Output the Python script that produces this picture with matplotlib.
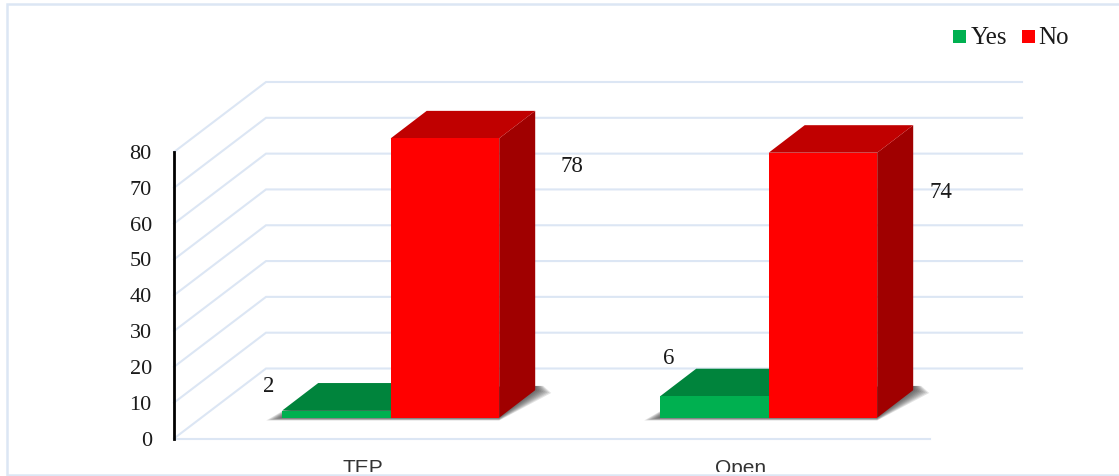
import matplotlib
matplotlib.use("Agg")
import matplotlib.pyplot as plt
from matplotlib.lines import Line2D
from matplotlib.patches import Polygon, Rectangle
from matplotlib.transforms import Bbox, TransformedBbox

categories = ["TEP", "Open"]
series_names = ["Yes", "No"]
yes_values = [2, 6]
no_values = [78, 74]
y_ticks = [0, 10, 20, 30, 40, 50, 60, 70, 80]

W, H = 1119, 476
GRID = "#DCE6F4"
SERIF = "Liberation Serif"

# Face colours of the extruded columns: front, top, side
YES_FACES = ("#00B050", "#00843C", "#006A30")
NO_FACES = ("#FF0000", "#C00000", "#A00000")

fig = plt.figure(figsize=(W / 100, H / 100), dpi=100)
fig.patch.set_facecolor("white")
ax = fig.add_axes([174 / W, 1 - 438.5 / H, 756 / W, 286.5 / H])
ax.set_xlim(0, 2)
ax.set_ylim(0, 80)
ax.patch.set_alpha(0)

# Oblique projection, expressed in data units of the front plane
PX_X = 2 / 756
PX_Y = 80 / 286.5
WALL_DX, WALL_DY = 92 * PX_X, 70 * PX_Y
BAR_DX, BAR_DY = 36 * PX_X, 27.5 * PX_Y
FLOOR_DX, FLOOR_DY = 27.7 * PX_X, 20.8 * PX_Y
BAR_W = 108.5 * PX_X


def poly(points, **kw):
    ax.add_patch(Polygon(points, closed=True, clip_on=False, linewidth=0, **kw))


# Gridlines across the side wall and the back wall
for v in y_ticks:
    ax.plot([0, WALL_DX, 2 + WALL_DX], [v, v + WALL_DY, v + WALL_DY],
            color=GRID, lw=1.5, clip_on=False, zorder=1, solid_joinstyle="miter")
ax.plot([0, 2], [0, 0], color=GRID, lw=1.5, clip_on=False, zorder=1)


def floor_shadow(x0, x1):
    """Soft shadow on the floor around a column base."""
    y0 = FLOOR_DY
    for i in range(8):
        grow = (8 - i) * 2.0 * PX_X
        drop = (8 - i) * 0.35 * PX_Y
        poly([(x0 - grow, y0 - drop), (x1, y0 - drop),
              (x1 + BAR_DX + grow, y0 + BAR_DY - drop),
              (x1 + BAR_DX + grow * 0.5, y0 + BAR_DY + 1.2),
              (x0 + BAR_DX, y0 + BAR_DY)],
             facecolor="#303030", alpha=0.13, zorder=2)


def column(x0, value, faces):
    front, top, side = faces
    x1 = x0 + BAR_W
    y0 = FLOOR_DY
    y1 = y0 + value
    poly([(x1, y0), (x1 + BAR_DX, y0 + BAR_DY), (x1 + BAR_DX, y1 + BAR_DY), (x1, y1)],
         facecolor=side, zorder=3)
    poly([(x0, y1), (x1, y1), (x1 + BAR_DX, y1 + BAR_DY), (x0 + BAR_DX, y1 + BAR_DY)],
         facecolor=top, zorder=3)
    ax.bar(x0, value, width=BAR_W, bottom=y0, align="edge", color=front,
           linewidth=0, zorder=4, clip_on=False)


for i in range(len(categories)):
    split = i + 0.5 + FLOOR_DX
    floor_shadow(split - BAR_W, split + BAR_W)
    column(split - BAR_W, yes_values[i], YES_FACES)
    column(split, no_values[i], NO_FACES)

# Value labels, placed beside the columns
label_offsets = {
    (0, 0): (269, 386), (0, 1): (572, 166),
    (1, 0): (669, 358), (1, 1): (941, 192),
}
for (i, j), (px, py) in label_offsets.items():
    val = (yes_values, no_values)[j][i]
    fig.text(px / W, 1 - py / H, str(val), family=SERIF, fontsize=16.5,
             color="#1A1A1A", ha="center", va="center")

# Axes furniture
for name in ("top", "right", "bottom"):
    ax.spines[name].set_visible(False)
ax.spines["left"].set_linewidth(2)
ax.spines["left"].set_color("black")
ax.set_yticks(y_ticks)
ax.tick_params(axis="y", length=0, pad=16)
for lbl in ax.get_yticklabels():
    lbl.set_family(SERIF)
    lbl.set_fontsize(16)
    lbl.set_color("#1A1A1A")

# Category labels are cut off by the frame along the lower edge
ax.set_xticks([i + 0.5 for i in range(len(categories))], categories)
ax.tick_params(axis="x", length=0, pad=15)
inner = TransformedBbox(Bbox([[0, 1 - 472 / H], [1, 1]]), fig.transFigure)
for lbl in ax.get_xticklabels():
    lbl.set_family("Liberation Sans")
    lbl.set_fontsize(15)
    lbl.set_color("#333333")
    lbl.set_clip_on(True)
    lbl.set_clip_box(inner)

# Legend entries
for name, color, sx, tx in zip(series_names, (YES_FACES[0], NO_FACES[0]), (953, 1022), (971, 1038)):
    fig.add_artist(Rectangle((sx / W, 1 - 43 / H), 13 / W, 13 / H,
                             transform=fig.transFigure, facecolor=color, linewidth=0))
    fig.text(tx / W, 1 - 38 / H, name, family=SERIF, fontsize=18, color="#1A1A1A",
             ha="left", va="center")

# Chart frame: open on the right-hand side
frame_x = [1, 7 / W, 7 / W, 1]
frame_y = [1 - 4 / H, 1 - 4 / H, 1 - 474.5 / H, 1 - 474.5 / H]
fig.add_artist(Line2D(frame_x, frame_y, transform=fig.transFigure, color=GRID,
                      linewidth=1.8, solid_joinstyle="miter"))

fig.savefig("out.png", dpi=100)
